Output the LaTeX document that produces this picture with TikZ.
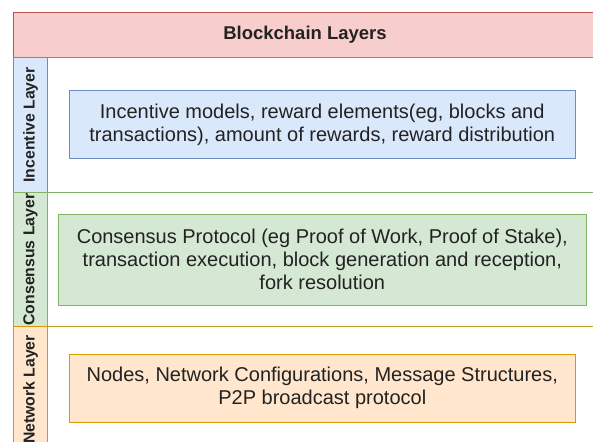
\documentclass[tikz,border=0pt]{standalone}
\usepackage{fontspec}
\setmainfont{Liberation Sans}
\usetikzlibrary{positioning}
\definecolor{hdrfill}{HTML}{F8CECC}\definecolor{hdrline}{HTML}{B85450}
\definecolor{incfill}{HTML}{DAE8FC}\definecolor{incline}{HTML}{6C8EBF}
\definecolor{confill}{HTML}{D5E8D4}\definecolor{conline}{HTML}{82B366}
\definecolor{netfill}{HTML}{FFE6CC}\definecolor{netline}{HTML}{D79B00}
\definecolor{txt}{HTML}{222222}
\begin{document}
\begin{tikzpicture}[x=1pt, y=1pt, every node/.style={text=txt},
	lane/.style={draw, minimum width=583.4pt, inner sep=0pt, line width=0.9pt},
	strip/.style={draw, minimum width=34.4pt, inner sep=0pt, line width=0.9pt},
	tag/.style={rotate=90, font=\fontsize{15.8}{18}\selectfont\bfseries},
	box/.style={draw, align=center, inner sep=0pt, line width=0.9pt, font=\fontsize{20}{23}\selectfont}]
	\useasboundingbox (0,0) rectangle (593,441);
	\clip (0,0) rectangle (593,441);
	\fill[white] (0,0) rectangle (593,441);
	\node[draw=hdrline, fill=hdrfill, line width=0.9pt, minimum width=583.4pt, minimum height=44.6pt, inner sep=0pt,
		font=\fontsize{18.5}{22}\selectfont\bfseries] (title) at (305,406) {Blockchain Layers};
	% lanes
	\node[lane, draw=incline, minimum height=135.2pt] (inc) at (305,316.1) {};
	\node[lane, draw=conline, minimum height=134.2pt] (con) at (305,181.4) {};
	\node[lane, draw=netline!70!conline, minimum height=125.6pt] (net) at (305,51.5) {};
	\node[strip, draw=incline, fill=incfill, minimum height=135.2pt] (incS) at (30.5,316.1) {};
	\node[strip, draw=conline, fill=confill, minimum height=134.2pt] (conS) at (30.5,181.4) {};
	\node[strip, draw=netline, fill=netfill, minimum height=125.6pt] (netS) at (30.5,51.5) {};
	\node[tag] at (incS) {Incentive Layer};
	\node[tag] at (conS) {Consensus Layer};
	\node[tag] at (netS) {Network Layer};
	% contents
	\node[box, draw=incline, fill=incfill, minimum width=506.3pt, minimum height=68.5pt] (incB) at (322.2,316.3)
		{Incentive models, reward elements(eg, blocks and\\ transactions), amount of rewards, reward distribution};
	\node[box, draw=conline, fill=confill, minimum width=528pt, minimum height=91pt] (conB) at (322.3,181.5)
		{Consensus Protocol (eg Proof of Work, Proof of Stake),\\ transaction execution, block generation and reception,\\ fork resolution};
	\node[box, draw=netline, fill=netfill, minimum width=506pt, minimum height=68pt] (netB) at (322.3,52.7)
		{Nodes, Network Configurations, Message Structures,\\ P2P broadcast protocol};
\end{tikzpicture}
\end{document}
